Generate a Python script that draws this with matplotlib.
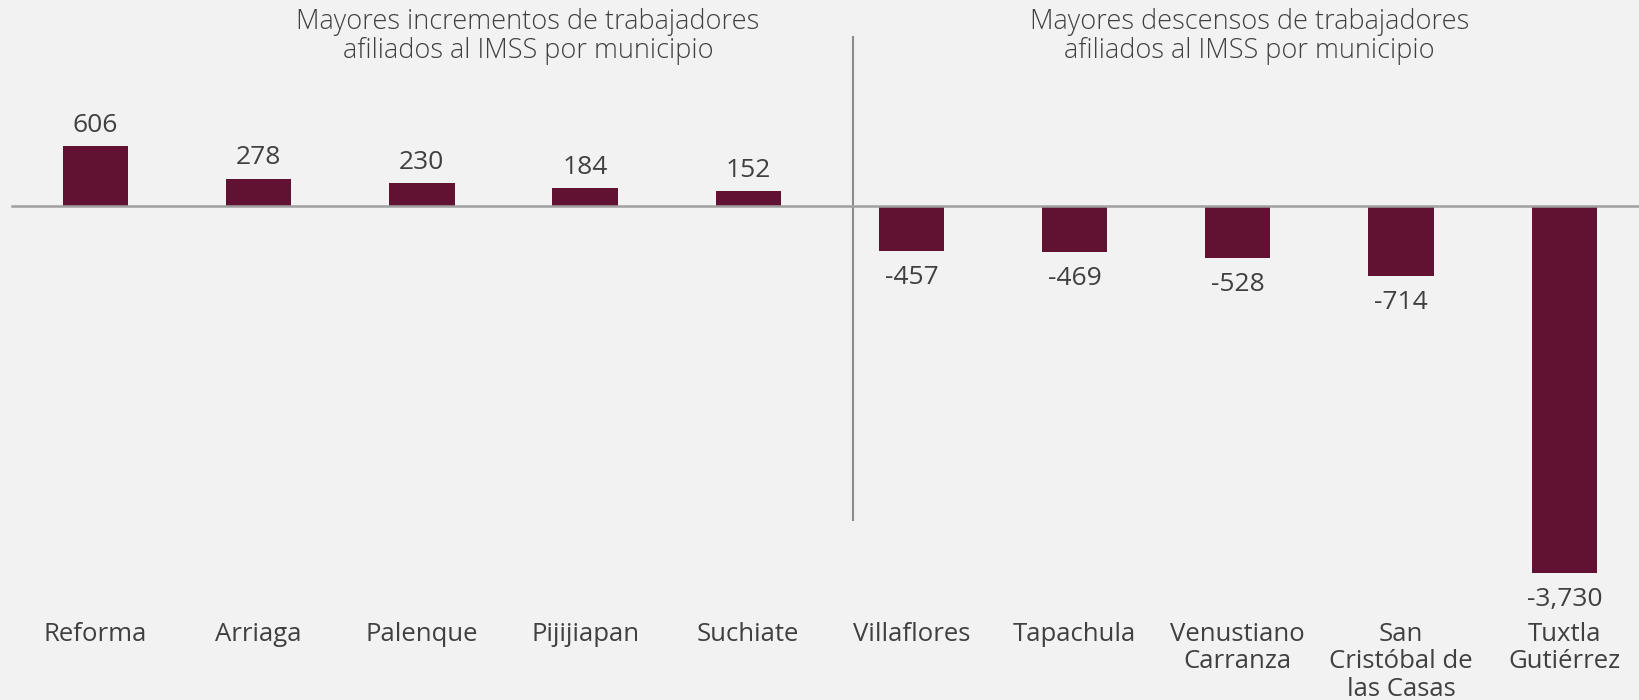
import matplotlib.pyplot as plt
from matplotlib.transforms import blended_transform_factory

municipios = ['Reforma', 'Arriaga', 'Palenque', 'Pijijiapan', 'Suchiate',
              'Villaflores', 'Tapachula', 'Venustiano\nCarranza',
              'San\nCristóbal de\nlas Casas', 'Tuxtla\nGutiérrez']
cambio = [606, 278, 230, 184, 152, -457, -469, -528, -714, -3730]
titulo_izq = 'Mayores incrementos de trabajadores\nafiliados al IMSS por municipio'
titulo_der = 'Mayores descensos de trabajadores\nafiliados al IMSS por municipio'

bar_color = '#611232'
text_color = '#404040'
bg = '#F2F2F2'

plt.rcParams['font.family'] = ['Open Sans', 'DejaVu Sans']

fig = plt.figure(figsize=(16.39, 7.0), dpi=100, facecolor=bg)
ax = fig.add_axes([0, 0, 1, 1])
ax.set_facecolor(bg)
for s in ax.spines.values():
    s.set_visible(False)
ax.set_xticks([])
ax.set_yticks([])

x = list(range(len(municipios)))
ax.bar(x, cambio, width=0.4, color=bar_color, zorder=2)
ax.set_xlim(-0.585, 9.458)
ax.set_ylim(-5015, 2091)

# zero line
ax.plot([-0.51, 9.458], [0, 0], color='#A0A0A0', lw=1.8, zorder=3)

trans = blended_transform_factory(ax.transData, ax.transAxes)
# divider
ax.plot([4.64, 4.64], [0.257, 0.947], color='#8C8C8C', lw=1.5, transform=trans)

for xi, v in zip(x, cambio):
    lbl = f'{v:,}'
    if v >= 0:
        ax.annotate(lbl, (xi, v), xytext=(0, 6), textcoords='offset points',
                    ha='center', va='bottom', fontsize=19, color=text_color)
    else:
        ax.annotate(lbl, (xi, v), xytext=(0, -10), textcoords='offset points',
                    ha='center', va='top', fontsize=19, color=text_color)

for xi, name in zip(x, municipios):
    ax.text(xi, 0.112, name, transform=trans, ha='center', va='top',
            fontsize=18.5, color=text_color, linespacing=1.13)

ax.text(2.65, 0.948, titulo_izq, transform=trans, ha='center', va='center',
        fontsize=19.5, color=text_color, linespacing=1.05, fontweight='light')
ax.text(7.07, 0.948, titulo_der, transform=trans, ha='center', va='center',
        fontsize=19.5, color=text_color, linespacing=1.05, fontweight='light')

fig.savefig('out.png', dpi=100, facecolor=bg)
